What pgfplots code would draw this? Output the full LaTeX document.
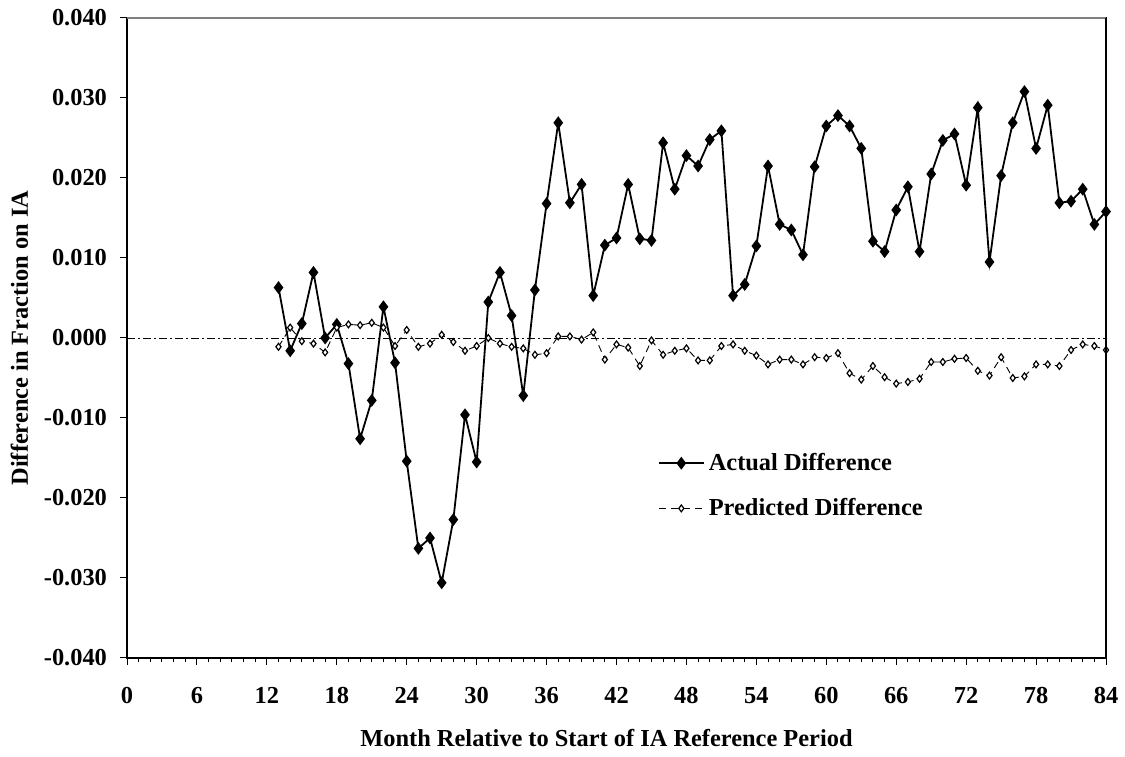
\documentclass[border=0pt]{standalone}
\usepackage{pgfplots}
\pgfplotsset{compat=1.18}
\usepackage{fontspec}
\setmainfont{Liberation Serif}
\begin{document}
\begin{tikzpicture}
\begin{axis}[
  name=ax,
  scale only axis,
  width=489.5pt, height=320pt,
  xmin=0, xmax=84, ymin=-0.04, ymax=0.04,
  xtick={0,6,...,84},
  minor x tick num=5,
  ytick={-0.04,-0.03,-0.02,-0.01,0,0.01,0.02,0.03,0.04},
  yticklabels={-0.040,-0.030,-0.020,-0.010,0.000,0.010,0.020,0.030,0.040},
  scaled y ticks=false,
  tick align=outside,
  major tick length=3.5pt,
  minor tick length=2pt,
  xtick pos=bottom, ytick pos=left,
  tick style={black, line width=0.5pt},
  axis line style={black, line width=0.6pt},
  /pgf/number format/assume math mode=true,
  tick label style={font=\fontsize{12.2}{14}\selectfont\bfseries},
  xticklabel style={yshift=-7.5pt},
  yticklabel style={xshift=-3pt},
  xlabel={Month Relative to Start of IA Reference Period},
  ylabel={Difference in Fraction on IA},
  label style={font=\fontsize{12.2}{14}\selectfont\bfseries},
  xlabel style={yshift=-6pt, xshift=-5pt},
  ylabel style={yshift=1pt},
  legend style={at={(rel axis cs:0.542,0.327)}, anchor=north west, draw=none, fill=none,
    font=\fontsize{12.2}{14}\selectfont\bfseries, row sep=8.5pt, inner sep=0pt},
  legend cell align=left,
  legend image code/.code={\draw[mark repeat=2, mark phase=2, #1] plot coordinates {(-1pt,0pt)(10.2pt,0pt)(21.5pt,0pt)};},
  clip=false,
]
\addplot[black, line width=0.45pt, dash pattern=on 4pt off 1.5pt on 1pt off 1.5pt, forget plot] coordinates {(0,0)(84,0)};
\addplot[black, line width=0.9pt, mark=diamond*, mark size=2.5pt, mark options={solid, fill=black}]
coordinates {
(13,0.0063)(14,-0.0016)(15,0.0018)(16,0.0082)(17,0.0000)(18,0.0017)(19,-0.0032)(20,-0.0126)
(21,-0.0078)(22,0.0039)(23,-0.0031)(24,-0.0154)(25,-0.0263)(26,-0.0250)(27,-0.0306)(28,-0.0227)
(29,-0.0096)(30,-0.0155)(31,0.0045)(32,0.0082)(33,0.0028)(34,-0.0072)(35,0.0060)(36,0.0168)
(37,0.0269)(38,0.0169)(39,0.0192)(40,0.0053)(41,0.0116)(42,0.0125)(43,0.0192)(44,0.0124)
(45,0.0122)(46,0.0244)(47,0.0186)(48,0.0228)(49,0.0215)(50,0.0248)(51,0.0259)(52,0.0053)
(53,0.0067)(54,0.0115)(55,0.0215)(56,0.0142)(57,0.0135)(58,0.0104)(59,0.0214)(60,0.0265)
(61,0.0278)(62,0.0265)(63,0.0237)(64,0.0121)(65,0.0108)(66,0.0160)(67,0.0189)(68,0.0108)
(69,0.0205)(70,0.0247)(71,0.0255)(72,0.0191)(73,0.0288)(74,0.0095)(75,0.0203)(76,0.0269)
(77,0.0308)(78,0.0237)(79,0.0291)(80,0.0169)(81,0.0171)(82,0.0186)(83,0.0142)(84,0.0158)
};
\addlegendentry{Actual Difference}
\addplot[black, line width=0.45pt, dash pattern=on 3.5pt off 2.5pt, mark=diamond*, mark size=1.7pt,
  mark options={solid, fill=white, line width=0.6pt}]
coordinates {
(13,-0.0011)(14,0.0013)(15,-0.0004)(16,-0.0007)(17,-0.0018)(18,0.0013)(19,0.0017)(20,0.0016)
(21,0.0019)(22,0.0013)(23,-0.0010)(24,0.0010)(25,-0.0011)(26,-0.0007)(27,0.0004)(28,-0.0005)
(29,-0.0016)(30,-0.0010)(31,0.0000)(32,-0.0007)(33,-0.0011)(34,-0.0013)(35,-0.0021)(36,-0.0019)
(37,0.0002)(38,0.0002)(39,-0.0002)(40,0.0007)(41,-0.0027)(42,-0.0008)(43,-0.0012)(44,-0.0035)
(45,-0.0003)(46,-0.0021)(47,-0.0016)(48,-0.0013)(49,-0.0028)(50,-0.0028)(51,-0.0010)(52,-0.0008)
(53,-0.0016)(54,-0.0022)(55,-0.0033)(56,-0.0027)(57,-0.0027)(58,-0.0033)(59,-0.0024)(60,-0.0025)
(61,-0.0019)(62,-0.0044)(63,-0.0052)(64,-0.0035)(65,-0.0049)(66,-0.0057)(67,-0.0055)(68,-0.0051)
(69,-0.0030)(70,-0.0030)(71,-0.0026)(72,-0.0025)(73,-0.0041)(74,-0.0047)(75,-0.0024)(76,-0.0050)
(77,-0.0048)(78,-0.0033)(79,-0.0033)(80,-0.0035)(81,-0.0015)(82,-0.0008)(83,-0.0010)(84,-0.0015)
};
\addlegendentry{Predicted Difference}
\end{axis}
\draw[gray, line width=0.6pt] (ax.north west) -- (ax.north east);
\draw[black, line width=0.6pt] (ax.north east) -- (ax.south east);
\pgfresetboundingbox
\useasboundingbox ([xshift=-63.5pt,yshift=-49.5pt]ax.south west) rectangle ([xshift=9.5pt,yshift=9pt]ax.north east);
\end{tikzpicture}
\end{document}
